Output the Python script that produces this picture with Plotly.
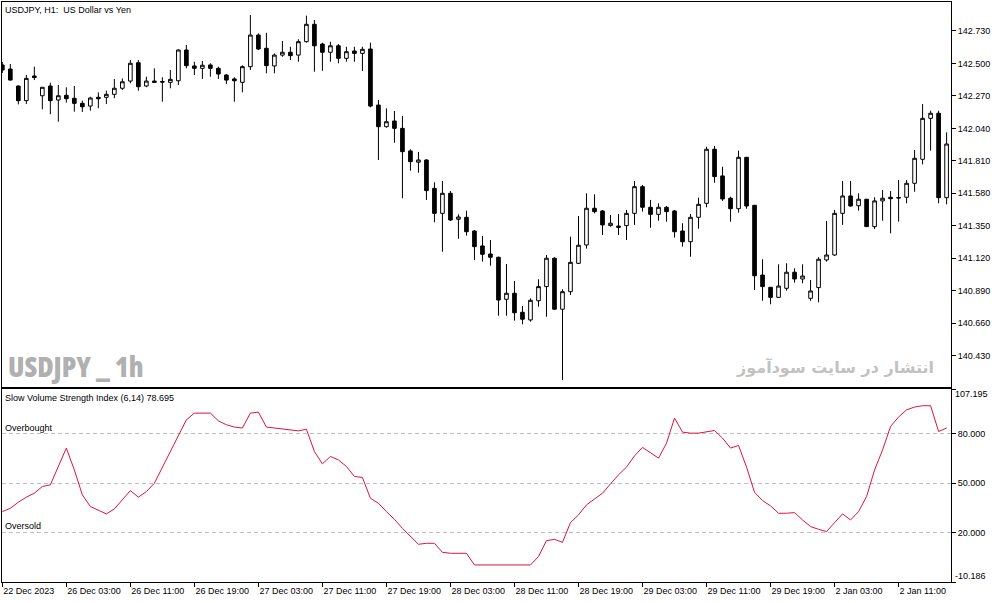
import plotly.graph_objects as go

bar_index = list(range(119))

opens = [142.489, 142.460, 142.340, 142.236, 142.411, 142.271, 142.340, 142.241, 142.274, 142.253,
         142.217, 142.198, 142.260, 142.260, 142.281, 142.324, 142.375, 142.505, 142.340, 142.375,
         142.372, 142.366, 142.377, 142.595, 142.482, 142.465, 142.489, 142.465, 142.418, 142.390,
         142.366, 142.477, 142.701, 142.607, 142.482, 142.559, 142.579, 142.559, 142.654, 142.777,
         142.637, 142.579, 142.625, 142.536, 142.588, 142.571, 142.602, 142.205, 142.052, 142.092,
         142.040, 141.880, 141.800, 141.816, 141.615, 141.438, 141.580, 141.396, 141.410, 141.313,
         141.207, 141.150, 141.127, 140.829, 140.872, 140.737, 140.683, 140.819, 140.919, 141.120,
         140.759, 140.883, 141.084, 141.214, 141.474, 141.455, 141.351, 141.348, 141.351, 141.438,
         141.627, 141.481, 141.431, 141.481, 141.455, 141.313, 141.237, 141.410, 141.509, 141.892,
         141.703, 141.545, 141.471, 141.835, 141.495, 141.001, 140.914, 140.843, 140.907, 141.021,
         140.973, 140.836, 140.912, 141.108, 141.143, 141.438, 141.561, 141.492, 141.538, 141.344,
         141.526, 141.552, 141.550, 141.552, 141.651, 141.821, 142.111, 142.147, 141.549]

highs = [142.510, 142.496, 142.343, 142.418, 142.477, 142.333, 142.363, 142.347, 142.331, 142.340,
         142.236, 142.264, 142.295, 142.307, 142.390, 142.394, 142.524, 142.524, 142.406, 142.465,
         142.402, 142.453, 142.600, 142.630, 142.512, 142.517, 142.501, 142.477, 142.425, 142.402,
         142.487, 142.843, 142.713, 142.717, 142.571, 142.659, 142.618, 142.671, 142.838, 142.807,
         142.647, 142.654, 142.637, 142.618, 142.618, 142.618, 142.647, 142.241, 142.182, 142.163,
         142.127, 141.892, 141.873, 141.821, 141.658, 141.667, 141.596, 141.431, 141.457, 141.320,
         141.278, 141.249, 141.131, 141.079, 140.959, 140.782, 140.836, 140.971, 141.143, 141.127,
         140.900, 141.273, 141.419, 141.580, 141.573, 141.462, 141.426, 141.434, 141.462, 141.667,
         141.639, 141.533, 141.509, 141.490, 141.462, 141.368, 141.434, 141.549, 141.910, 141.915,
         141.768, 141.556, 141.882, 141.837, 141.497, 141.113, 140.916, 141.077, 141.084, 141.049,
         141.077, 140.966, 141.127, 141.384, 141.462, 141.667, 141.667, 141.580, 141.540, 141.552,
         141.603, 141.596, 141.674, 141.674, 141.887, 142.212, 142.165, 142.165, 142.012]

lows = [142.432, 142.379, 142.210, 142.212, 142.382, 142.175, 142.140, 142.087, 142.222, 142.158,
        142.156, 142.165, 142.182, 142.212, 142.253, 142.312, 142.359, 142.307, 142.331, 142.365,
        142.229, 142.324, 142.347, 142.465, 142.418, 142.390, 142.406, 142.390, 142.354, 142.229,
        142.295, 142.453, 142.595, 142.430, 142.430, 142.547, 142.524, 142.512, 142.647, 142.441,
        142.448, 142.512, 142.501, 142.512, 142.512, 142.446, 142.189, 141.816, 142.045, 141.938,
        141.545, 141.740, 141.726, 141.533, 141.375, 141.166, 141.384, 141.258, 141.280, 141.108,
        141.096, 141.067, 140.713, 140.713, 140.678, 140.652, 140.671, 140.777, 140.706, 140.757,
        140.258, 140.860, 141.079, 141.188, 141.438, 141.285, 141.344, 141.285, 141.249, 141.356,
        141.450, 141.336, 141.386, 141.379, 141.266, 141.202, 141.131, 141.329, 141.481, 141.655,
        141.526, 141.379, 141.443, 141.471, 140.895, 140.819, 140.794, 140.842, 140.890, 140.947,
        140.943, 140.819, 140.808, 141.096, 141.136, 141.356, 141.485, 141.457, 141.341, 141.327,
        141.386, 141.297, 141.379, 141.509, 141.591, 141.785, 141.882, 141.509, 141.502]

closes = [142.453, 142.382, 142.236, 142.394, 142.400, 142.331, 142.236, 142.271, 142.250, 142.217,
          142.193, 142.255, 142.250, 142.281, 142.324, 142.370, 142.501, 142.335, 142.375, 142.366,
          142.368, 142.387, 142.595, 142.484, 142.465, 142.487, 142.465, 142.425, 142.382, 142.377,
          142.477, 142.701, 142.602, 142.484, 142.559, 142.579, 142.555, 142.654, 142.777, 142.625,
          142.579, 142.625, 142.536, 142.583, 142.571, 142.600, 142.198, 142.052, 142.087, 142.040,
          141.875, 141.804, 141.816, 141.599, 141.438, 141.580, 141.391, 141.412, 141.308, 141.202,
          141.148, 141.127, 140.824, 140.872, 140.734, 140.688, 140.822, 140.919, 141.120, 140.759,
          140.883, 141.091, 141.212, 141.474, 141.450, 141.356, 141.368, 141.339, 141.438, 141.627,
          141.481, 141.431, 141.481, 141.450, 141.308, 141.237, 141.410, 141.502, 141.892, 141.698,
          141.540, 141.471, 141.835, 141.490, 140.996, 140.919, 140.843, 140.923, 141.021, 140.973,
          140.994, 140.888, 141.113, 141.143, 141.438, 141.561, 141.490, 141.538, 141.344, 141.526,
          141.545, 141.542, 141.547, 141.651, 141.828, 142.111, 142.147, 141.549, 141.929]

svsi = [32.7, 34.7, 38.4, 41.5, 43.9, 48.0, 49.0, 60.2, 71.4, 58.1,
        42.9, 35.8, 33.7, 31.3, 34.3, 39.8, 45.5, 41.5, 44.9, 50.0,
        59.8, 69.3, 79.5, 88.6, 92.7, 92.7, 92.7, 88.0, 85.6, 84.2,
        83.6, 92.7, 93.3, 84.2, 83.6, 82.9, 82.5, 81.9, 82.9, 69.3,
        61.8, 66.3, 64.2, 60.2, 54.1, 53.5, 40.8, 37.8, 32.7, 28.0,
        22.5, 17.5, 12.8, 13.4, 13.4, 7.9, 7.3, 7.3, 7.3, 0.2,
        0.2, 0.2, 0.2, 0.2, 0.2, 0.2, 0.2, 5.3, 15.0, 15.8,
        14.0, 26.0, 30.7, 36.8, 40.4, 43.9, 49.6, 55.1, 59.8, 66.7,
        71.8, 68.3, 65.3, 74.4, 89.7, 81.1, 80.5, 80.5, 81.1, 82.1,
        77.5, 71.4, 73.0, 59.8, 44.5, 39.4, 36.2, 31.7, 31.7, 32.1,
        27.6, 23.6, 21.9, 20.5, 26.0, 31.3, 27.6, 32.7, 41.9, 58.1,
        70.3, 84.6, 90.3, 94.7, 96.4, 97.2, 97.2, 81.5, 83.6]

x_tick_pos = [0, 8, 16, 24, 32, 40, 48, 56, 64, 72, 80, 88, 96, 104, 112]
x_tick_labels = ["22 Dec 2023", "26 Dec 03:00", "26 Dec 11:00", "26 Dec 19:00", "27 Dec 03:00",
                 "27 Dec 11:00", "27 Dec 19:00", "28 Dec 03:00", "28 Dec 11:00", "28 Dec 19:00",
                 "29 Dec 03:00", "29 Dec 11:00", "29 Dec 19:00", "2 Jan 03:00", "2 Jan 11:00"]

price_ticks = [140.430, 140.660, 140.890, 141.120, 141.350, 141.580, 141.810, 142.040, 142.270, 142.500, 142.730]
price_range = [140.210, 142.935]
ind_levels = [20, 50, 80]
ind_range = [-10.186, 107.195]

FONT = "Liberation Sans, Arial, sans-serif"

fig = go.Figure()
fig.add_trace(go.Candlestick(
    x=bar_index, open=opens, high=highs, low=lows, close=closes,
    increasing=dict(line=dict(color="black", width=1), fillcolor="white"),
    decreasing=dict(line=dict(color="black", width=1), fillcolor="black"),
    whiskerwidth=0, xaxis="x", yaxis="y", hoverinfo="skip", showlegend=False))
fig.add_trace(go.Scatter(
    x=bar_index, y=svsi, mode="lines", line=dict(color="#dc143c", width=1),
    xaxis="x2", yaxis="y2", hoverinfo="skip", showlegend=False))

xr = [-0.04, 118.55]
common_axis = dict(showline=True, mirror=True, linecolor="black", linewidth=1, zeroline=False,
                   showgrid=False, tickfont=dict(family=FONT, size=9, color="black"))

fig.update_layout(
    width=1003, height=603,
    margin=dict(l=2, r=52, t=2, b=21),
    paper_bgcolor="white", plot_bgcolor="white",
    font=dict(family=FONT, size=9, color="black"),
    showlegend=False,
    boxgap=0.35,
    xaxis=dict(domain=[0, 1], range=xr, showticklabels=False, ticks="", anchor="y",
               rangeslider=dict(visible=False), **common_axis),
    yaxis=dict(domain=[0.3367, 1], range=price_range, side="right", tickvals=price_ticks,
               tickformat=".3f", ticks="outside", ticklen=4, tickcolor="black", anchor="x",
               **common_axis),
    xaxis2=dict(domain=[0, 1], range=xr, tickvals=x_tick_pos, ticktext=x_tick_labels,
                ticks="outside", ticklen=4, tickcolor="black", ticklabelposition="outside right",
                anchor="y2", **common_axis),
    yaxis2=dict(domain=[0, 0.3322], range=ind_range, side="right",
                tickvals=[ind_range[0]] + ind_levels + [ind_range[1]],
                ticktext=[""] + ["%.3f" % v for v in ind_levels] + [""],
                ticks="outside", ticklen=4, tickcolor="black", anchor="x2",
                showline=True, mirror=True, linecolor="black", linewidth=1, zeroline=False,
                showgrid=True, gridcolor="#c0c0c0", griddash="4px,3px", gridwidth=1,
                tickfont=dict(family=FONT, size=9, color="black")),
)

def px_y(py):
    return (582 - py) / 580.0

def px_x(px):
    return (px - 2) / 949.0

ann = []
ann.append(dict(text="USDJPY, H1:\u00a0 US Dollar vs Yen", x=px_x(3), y=px_y(10), xanchor="left",
                yanchor="middle"))
ann.append(dict(text="Slow Volume Strength Index (6,14) 78.695", x=px_x(3), y=px_y(398),
                xanchor="left", yanchor="middle"))
ann.append(dict(text="Overbought", x=px_x(3), y=px_y(428), xanchor="left", yanchor="middle"))
ann.append(dict(text="Oversold", x=px_x(3), y=px_y(526), xanchor="left", yanchor="middle"))
ann.append(dict(text="%.3f" % ind_range[1], x=px_x(953), y=px_y(394), xanchor="left", yanchor="middle"))
ann.append(dict(text="%.3f" % ind_range[0], x=px_x(953), y=px_y(576), xanchor="left", yanchor="middle"))
ann.append(dict(text="<span style=\"font-stretch:condensed;font-weight:800\">USDJPY _ 1h</span>",
                x=px_x(6), y=px_y(366), xanchor="left", yanchor="middle",
                font=dict(family="Open Sans, Liberation Sans Narrow, sans-serif", size=28,
                          color="#b0b0b0")))
ann.append(dict(text="<b>انتشار در سایت سودآموز</b>", x=px_x(936), y=px_y(367), xanchor="right",
                yanchor="middle",
                font=dict(family="DejaVu Sans, sans-serif", size=16, color="#c2c2c2")))
for a in ann:
    a.setdefault("font", dict(family=FONT, size=9, color="black"))
    a.update(xref="paper", yref="paper", showarrow=False)
fig.update_layout(annotations=ann)

fig.write_html("out.html", config={"displayModeBar": False},
               post_script="document.body.style.margin='0';document.body.style.padding='0';")
